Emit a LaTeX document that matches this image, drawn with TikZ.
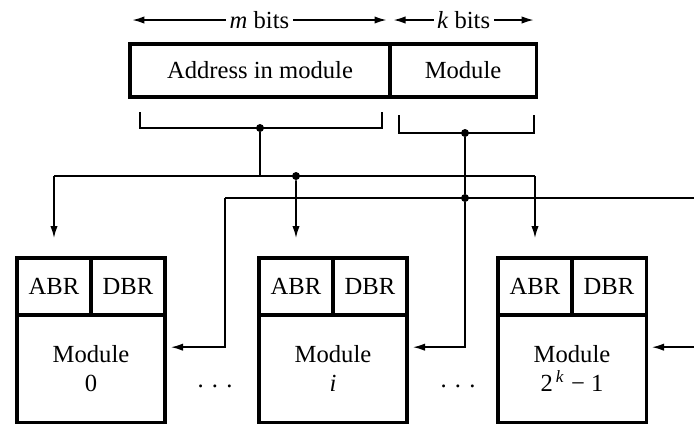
\documentclass[tikz,border=0pt]{standalone}
\usepackage{fontspec}
\setmainfont{Liberation Serif}
\usetikzlibrary{arrows.meta,calc,positioning}
\tikzset{
  wire/.style={black,line width=0.65pt},
  flow/.style={wire,-{Latex[length=1.8mm,width=1.1mm]}},
  span/.style={wire,{Latex[length=1.8mm,width=1.1mm]}-{Latex[length=1.8mm,width=1.1mm]}},
  field/.style={draw=black,line width=1.3pt,minimum height=0.795cm,inner sep=0pt,
                outer sep=0pt,anchor=north west,font=\fontsize{10.5}{11.5}\selectfont},
  reg/.style={field,minimum width=1.11cm,minimum height=0.855cm},
  bank/.style={field,minimum width=2.22cm,minimum height=1.605cm,align=center},
  junction/.style={circle,fill=black,inner sep=0pt,minimum size=3.4pt},
  lab/.style={font=\fontsize{10.5}{11.5}\selectfont,fill=white,inner sep=1.5pt},
}

\begin{document}
\begin{tikzpicture}[x=0.015cm,y=-0.015cm]
  \path[use as bounding box] (0,0) rectangle (694,424);
  \clip (0,0) rectangle (694,424);

  % address word
  \node[field,minimum width=3.9cm] (addr) at (130,44) {Address in module};
  \node[field,minimum width=2.19cm] (modsel) at (addr.north east) {Module};
  \draw[span] ([shift={(1pt,0.36cm)}]addr.north west) -- node[lab]{\textit{m} bits}
              ([shift={(-1.5pt,0.36cm)}]addr.north east);
  \draw[span] ([shift={(1.5pt,0.36cm)}]modsel.north west) -- node[lab]{\textit{k} bits}
              ([shift={(-1pt,0.36cm)}]modsel.north east);

  % modules
  \foreach \x/\n/\t in {17/0/0,259/i/\textit{i},498/k/2\textsuperscript{\,\textit{k}} − 1}{
    \node[reg] (abr\n) at (\x,258) {ABR};
    \node[reg] (dbr\n) at (abr\n.north east) {DBR};
    \node[bank] (body\n) at (abr\n.south west) {Module\\[1pt]\t};
    \coordinate (in\n) at ([shift={(0.09cm,0.32cm)}]body\n.east);
  }
  \node[lab] (gap0) at (215,386) {. . .};
  \node[lab] (gap1) at (458,386) {. . .};

  % brackets and junctions
  \coordinate (brA1) at (140,112);
  \coordinate (brA2) at (382,112);
  \coordinate (brB1) at (399,115);
  \coordinate (brB2) at (534,115);
  \node[junction] (jaddr) at (260,128) {};
  \node[junction] (jmod) at (465,133) {};
  \node[junction] (jbusA) at (296,176) {};
  \node[junction] (jbusB) at (465,198) {};
  \coordinate (busBl) at (225,198);
  \coordinate (busBr) at (700,198);

  \draw[wire] (brA1) -- (brA1 |- jaddr) -- (brA2 |- jaddr) -- (brA2);
  \draw[wire] (brB1) -- (brB1 |- jmod) -- (brB2 |- jmod) -- (brB2);

  % address bus
  \draw[wire] (jaddr) -- (jaddr |- jbusA);
  \draw[wire] (abr0.north |- jbusA) -- (abrk.north |- jbusA);
  \draw[flow] (abr0.north |- jbusA) -- ([yshift=0.3cm]abr0.north);
  \draw[flow] (jbusA) -- ([yshift=0.3cm]abri.north);
  \draw[flow] (abrk.north |- jbusA) -- ([yshift=0.3cm]abrk.north);

  % module select
  \draw[wire] (busBl) -- (busBr);
  \draw[wire] (jmod) -- (jbusB);
  \draw[flow] (busBl) |- (in0);
  \draw[flow] (jbusB) |- (ini);
  \draw[flow] (ink -| busBr) -- (ink);
\end{tikzpicture}
\end{document}
